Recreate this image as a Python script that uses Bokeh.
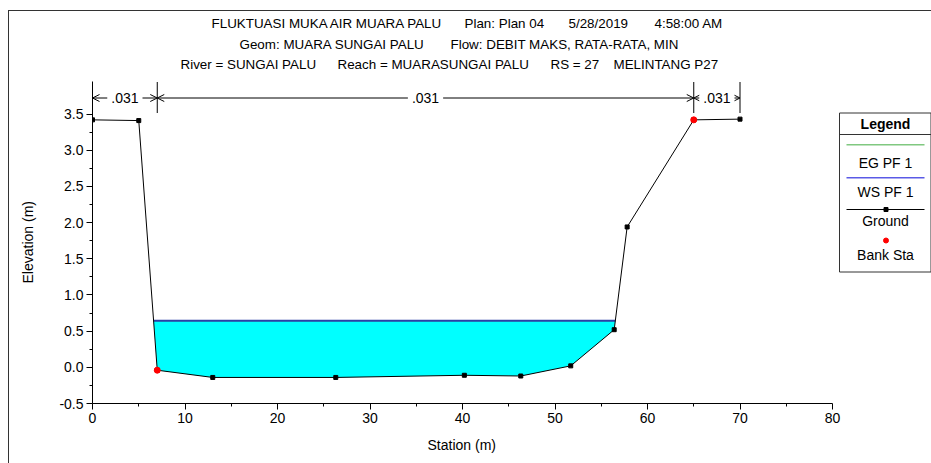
import numpy as np
from bokeh.plotting import figure
from bokeh.models import (Label, Arrow, OpenHead, FixedTicker, PrintfTickFormatter,
                          ColumnDataSource, Range1d, Title)
from bokeh.core.properties import value
from bokeh.embed import file_html
from bokeh.resources import INLINE

# Cross section MELINTANG P27
station = [0.0, 5.0, 7.0, 13.0, 26.3, 40.2, 46.3, 51.7, 56.4, 57.8, 65.0, 70.0]
elevation = [3.42, 3.41, -0.04, -0.14, -0.14, -0.11, -0.12, 0.02, 0.52, 1.94, 3.42, 3.43]
bank_station = [7.0, 65.0]
bank_elevation = [-0.04, 3.42]
ws_pf1 = 0.645
eg_pf1 = 0.645

# Manning's n regions
n_breaks = [0.0, 7.0, 65.0, 70.0]
n_values = [".031", ".031", ".031"]

x_ticks = [0, 10, 20, 30, 40, 50, 60, 70, 80]
x_minor = [5, 15, 25, 35, 45, 55, 65, 75]
y_ticks = [-0.5, 0.0, 0.5, 1.0, 1.5, 2.0, 2.5, 3.0, 3.5]
y_minor = [-0.25, 0.25, 0.75, 1.25, 1.75, 2.25, 2.75, 3.25]

title_lines = [
    [("FLUKTUASI MUKA AIR MUARA PALU", 211), ("Plan: Plan 04", 464),
     ("5/28/2019", 568), ("4:58:00 AM", 654)],
    [("Geom: MUARA SUNGAI PALU", 239), ("Flow: DEBIT MAKS, RATA-RATA, MIN", 450)],
    [("River = SUNGAI PALU", 180), ("Reach = MUARASUNGAI PALU", 337),
     ("RS = 27", 550), ("MELINTANG P27", 613)],
]
title_baselines = [22.7, 43.5, 64.3]

FONT = "Liberation Sans"
W, H = 931, 463
# canvas pixels of station 0 / 80 and elevation -0.5 / 3.95
PX0, PX80 = 92, 832
PYB, PYT = 403, 81
XS0, XS1 = 0.0, 80.0
YE0, YE1 = -0.5, 3.95


def cx(px):
    return XS0 + (px - PX0) / (PX80 - PX0) * (XS1 - XS0)


def cy(py):
    return YE0 + (PYB - py) / (PYB - PYT) * (YE1 - YE0)


p = figure(width=W, height=H, output_backend="svg", toolbar_location=None,
           x_range=Range1d(XS0, cx(W)), y_range=Range1d(YE0, cy(0)),
           min_border_left=PX0, min_border_right=0,
           min_border_top=0, min_border_bottom=H - PYB)
p.grid.visible = False
p.outline_line_color = None
p.background_fill_alpha = 0
p.border_fill_alpha = 0
p.styles = {
    "background": ("linear-gradient(#333,#333) 8px 10px / 1px 453px no-repeat, "
                   "linear-gradient(#333,#333) 8px 10px / 923px 1px no-repeat, #ffffff")
}

p.xaxis.ticker = FixedTicker(ticks=x_ticks, minor_ticks=x_minor)
p.yaxis.ticker = FixedTicker(ticks=y_ticks, minor_ticks=y_minor)
p.yaxis.formatter = PrintfTickFormatter(format="%.1f")
p.xaxis.bounds = (XS0, XS1)
p.yaxis.bounds = (YE0, YE1)
for ax in (p.xaxis, p.yaxis):
    ax.axis_line_color = "black"
    ax.major_tick_line_color = "black"
    ax.minor_tick_line_color = "black"
    ax.major_tick_out = 6
    ax.major_tick_in = 0
    ax.minor_tick_out = 3
    ax.minor_tick_in = 0
    ax.major_label_text_font = FONT
    ax.major_label_text_font_size = "14px"
    ax.major_label_text_color = "black"
p.xaxis.major_label_standoff = 3
p.yaxis.major_label_standoff = 3

# axis titles
p.add_layout(Title(text="Station (m)", align="left", offset=335, standoff=18,
                   vertical_align="bottom", text_font=FONT, text_font_size="14px",
                   text_font_style="normal", text_color="black"), "below")
p.add_layout(Title(text="Elevation (m)", align="left", offset=120, standoff=37,
                   vertical_align="top", text_font=FONT, text_font_size="14px",
                   text_font_style="normal", text_color="black"), "left")

# water area below the water surface
st = np.array(station)
el = np.array(elevation)
wet_x, wet_y = [], []
for i in range(len(st) - 1):
    a, b = el[i] - ws_pf1, el[i + 1] - ws_pf1
    if a < 0:
        wet_x.append(st[i]); wet_y.append(el[i])
    if a * b < 0:
        t = a / (a - b)
        wet_x.append(st[i] + t * (st[i + 1] - st[i])); wet_y.append(ws_pf1)
wet = ColumnDataSource(dict(x=wet_x, y=wet_y))
p.patch("x", "y", source=wet, fill_color="#00FFFF", line_color=None)
p.line([wet_x[0], wet_x[-1]], [eg_pf1, eg_pf1], line_color="#70c070", line_width=1)
p.line([wet_x[0], wet_x[-1]], [ws_pf1, ws_pf1], line_color="#2b3fa6", line_width=2)

ground = ColumnDataSource(dict(x=station, y=elevation))
p.line("x", "y", source=ground, line_color="black", line_width=1)
p.scatter("x", "y", source=ground, marker="square", size=4, color="black")
p.scatter(bank_station, bank_elevation, marker="circle", size=6, color="red")

# Manning's n markers across the top
n_lo, n_hi, n_mid = cy(112.5), cy(81.5), cy(97.5)
p.segment(n_breaks, [n_lo] * len(n_breaks), n_breaks, [n_hi] * len(n_breaks),
          line_color="black", line_width=1)
for a, b, txt in zip(n_breaks[:-1], n_breaks[1:], n_values):
    m = 0.5 * (a + b)
    for end in (a, b):
        p.add_layout(Arrow(x_start=m, y_start=n_mid, x_end=end, y_end=n_mid,
                           line_color="black", line_width=1,
                           end=OpenHead(size=7, line_color="black", line_width=1)))
    p.add_layout(Label(x=m, y=n_mid, text=txt, text_align="center",
                       text_baseline="middle", text_font=FONT,
                       text_font_size="14px", text_color="black",
                       background_fill_color="white", padding=4))

# title block
tx, ty, tt = [], [], []
for baseline, segs in zip(title_baselines, title_lines):
    for txt, left in segs:
        tx.append(cx(left)); ty.append(cy(baseline)); tt.append(txt)
p.text(tx, ty, text=tt, text_align="left", text_baseline="alphabetic",
       text_font=value(FONT), text_font_size="13.4px", text_color="black")

# legend panel
L, R, T, B, C = cx(839), cx(930.5), cy(112.5), cy(271.5), cx(885)
p.quad(left=[L], right=[R], top=[T], bottom=[B], fill_color="white",
       line_color="#333333", line_width=1)
p.segment([L], [cy(134)], [R], [cy(134)], line_color="#333333", line_width=1)
p.text([C], [cy(123.5)], text=["Legend"], text_align="center", text_baseline="middle",
       text_font=value(FONT), text_font_size="14px", text_font_style="bold",
       text_color="black")
legend_names = ["EG PF 1", "WS PF 1", "Ground", "Bank Sta"]
legend_text_y = [162, 191, 220, 254]
p.text([C] * 4, [cy(v) for v in legend_text_y], text=legend_names, text_align="center",
       text_baseline="middle", text_font=value(FONT), text_font_size="14px",
       text_color="black")
sw_l, sw_r = cx(846), cx(924)
p.segment([sw_l], [cy(144.3)], [sw_r], [cy(144.3)], line_color="#80c880", line_width=1.5)
p.segment([sw_l], [cy(177.3)], [sw_r], [cy(177.3)], line_color="#5a5ae6", line_width=1.5)
p.segment([sw_l], [cy(209)], [sw_r], [cy(209)], line_color="black", line_width=1)
p.scatter([cx(885.5)], [cy(209)], marker="square", size=4, color="black")
p.scatter([cx(885.5)], [cy(240)], marker="circle", size=5, color="red")

open("out.html", "w").write(file_html(p, INLINE))
